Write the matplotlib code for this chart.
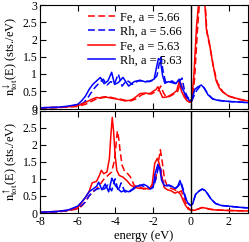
import matplotlib
matplotlib.use("Agg")
import matplotlib.pyplot as plt

plt.rcParams['font.family'] = ['Liberation Serif', 'DejaVu Serif']
plt.rcParams['mathtext.fontset'] = 'stix'

# ---- spin down (top panel) ----
fe66_dn_x = [-8, -7, -6.5, -6, -5.6, -5.3, -5.0, -4.7, -4.4, -4.1, -3.8, -3.5, -3.2, -2.9, -2.6, -2.3, -2.1, -1.9, -1.72, -1.6, -1.45, -1.3, -1.1, -0.9, -0.7, -0.55, -0.42, -0.3, -0.15, 0.0, 0.1, 0.2, 0.35, 0.5, 0.62, 0.75, 0.85, 1.0, 1.2, 1.4, 1.7, 2.0, 2.5, 3.0]
fe66_dn_y = [0.02, 0.03, 0.04, 0.06, 0.12, 0.2, 0.28, 0.33, 0.35, 0.3, 0.28, 0.24, 0.22, 0.28, 0.4, 0.45, 0.42, 0.48, 0.52, 0.65, 0.45, 0.32, 0.36, 0.42, 0.5, 0.75, 0.55, 0.35, 0.22, 0.18, 0.3, 0.9, 2.3, 3.4, 4.3, 3.1, 2.2, 1.8, 1.2, 0.75, 0.48, 0.36, 0.27, 0.22]

rh66_dn_x = [-8, -7, -6.5, -6, -5.7, -5.5, -5.3, -5.1, -4.9, -4.65, -4.45, -4.25, -4.05, -3.85, -3.65, -3.4, -3.1, -2.8, -2.5, -2.2, -2.0, -1.8, -1.68, -1.58, -1.48, -1.35, -1.2, -1.0, -0.8, -0.6, -0.47, -0.35, -0.2, -0.05, 0.05, 0.15, 0.3, 0.5, 0.7, 0.9, 1.15, 1.4, 1.7, 2.1, 2.5, 3.0]
rh66_dn_y = [0.02, 0.03, 0.06, 0.1, 0.16, 0.28, 0.45, 0.6, 0.72, 0.85, 0.68, 0.78, 0.72, 1.0, 0.65, 0.82, 0.7, 0.8, 0.8, 0.78, 0.82, 0.95, 1.3, 1.48, 1.1, 0.78, 0.75, 0.8, 0.72, 0.8, 0.88, 0.55, 0.35, 0.25, 0.22, 0.35, 0.52, 0.65, 0.6, 0.42, 0.28, 0.24, 0.22, 0.2, 0.19, 0.17]

fe63_dn_x = [-8, -7, -6.5, -6, -5.7, -5.5, -5.2, -5.0, -4.8, -4.5, -4.2, -4.0, -3.7, -3.5, -3.2, -3.0, -2.7, -2.4, -2.2, -2.0, -1.85, -1.75, -1.65, -1.5, -1.3, -1.1, -0.9, -0.75, -0.62, -0.5, -0.35, -0.2, -0.07, 0.05, 0.15, 0.3, 0.45, 0.58, 0.72, 0.82, 0.98, 1.16, 1.33, 1.5, 1.68, 2.0, 2.5, 3.0]
fe63_dn_y = [0.02, 0.03, 0.05, 0.08, 0.15, 0.2, 0.28, 0.32, 0.3, 0.33, 0.3, 0.28, 0.25, 0.22, 0.24, 0.3, 0.43, 0.45, 0.42, 0.5, 0.55, 0.63, 0.5, 0.32, 0.33, 0.38, 0.45, 0.52, 0.78, 0.5, 0.33, 0.22, 0.18, 0.28, 0.9, 2.4, 3.3, 4.5, 3.2, 2.3, 1.9, 1.3, 0.82, 0.6, 0.48, 0.36, 0.28, 0.22]

rh63_dn_x = [-8, -7, -6.5, -6, -5.8, -5.6, -5.4, -5.2, -5.0, -4.8, -4.6, -4.4, -4.2, -4.05, -3.85, -3.6, -3.3, -3.0, -2.7, -2.4, -2.15, -1.95, -1.82, -1.72, -1.62, -1.5, -1.38, -1.2, -1.0, -0.8, -0.62, -0.5, -0.38, -0.25, -0.1, 0.0, 0.1, 0.2, 0.35, 0.55, 0.7, 0.9, 1.15, 1.4, 1.7, 2.1, 2.5, 3.0]
rh63_dn_y = [0.02, 0.04, 0.07, 0.12, 0.22, 0.35, 0.55, 0.7, 0.8, 0.9, 0.72, 0.8, 1.05, 0.7, 0.75, 0.9, 0.65, 0.78, 0.82, 0.77, 0.8, 0.85, 1.2, 1.45, 1.4, 0.95, 0.73, 0.78, 0.75, 0.72, 0.85, 0.62, 0.5, 0.35, 0.24, 0.22, 0.35, 0.55, 0.62, 0.68, 0.6, 0.4, 0.28, 0.24, 0.22, 0.2, 0.19, 0.17]

# ---- spin up (bottom panel) ----
fe66_up_x = [-8, -7, -6.5, -6.0, -5.8, -5.6, -5.4, -5.2, -5.0, -4.8, -4.6, -4.4, -4.2, -4.05, -3.97, -3.9, -3.83, -3.75, -3.65, -3.5, -3.35, -3.2, -3.0, -2.75, -2.5, -2.3, -2.1, -1.9, -1.75, -1.62, -1.52, -1.4, -1.25, -1.05, -0.85, -0.65, -0.5, -0.38, -0.25, -0.12, 0.0, 0.2, 0.4, 0.6, 0.8, 1.0, 1.3, 1.7, 2.2, 3.0]
fe66_up_y = [0.02, 0.04, 0.07, 0.12, 0.2, 0.32, 0.5, 0.62, 0.7, 0.85, 1.0, 1.1, 1.2, 1.55, 2.0, 2.4, 2.2, 1.8, 1.4, 1.2, 1.15, 1.05, 0.8, 0.78, 0.7, 0.72, 0.75, 0.9, 1.4, 1.85, 1.5, 1.0, 0.78, 0.72, 0.68, 0.6, 0.65, 0.45, 0.28, 0.14, 0.08, 0.08, 0.12, 0.16, 0.14, 0.11, 0.09, 0.08, 0.07, 0.06]

rh66_up_x = [-8, -7, -6.5, -6.0, -5.8, -5.6, -5.4, -5.2, -5.0, -4.8, -4.6, -4.4, -4.2, -4.02, -3.85, -3.7, -3.5, -3.3, -3.1, -2.9, -2.7, -2.5, -2.3, -2.1, -1.95, -1.82, -1.7, -1.6, -1.5, -1.35, -1.15, -0.95, -0.8, -0.65, -0.52, -0.4, -0.25, -0.1, 0.0, 0.1, 0.25, 0.45, 0.6, 0.75, 0.9, 1.05, 1.3, 1.6, 2.0, 2.5, 3.0]
rh66_up_y = [0.02, 0.04, 0.07, 0.15, 0.22, 0.32, 0.5, 0.62, 0.7, 0.72, 0.7, 0.82, 0.65, 1.0, 0.65, 0.88, 0.62, 0.6, 0.68, 0.75, 0.82, 0.78, 0.75, 0.72, 0.8, 1.1, 1.4, 1.3, 0.95, 0.8, 0.82, 0.75, 0.72, 0.8, 0.9, 0.68, 0.4, 0.25, 0.22, 0.28, 0.55, 0.65, 0.7, 0.66, 0.55, 0.42, 0.28, 0.22, 0.2, 0.17, 0.15]

fe63_up_x = [-8, -7, -6.5, -6.0, -5.8, -5.6, -5.4, -5.24, -5.0, -4.85, -4.75, -4.62, -4.45, -4.32, -4.24, -4.17, -4.1, -4.02, -3.93, -3.8, -3.6, -3.4, -3.2, -3.0, -2.7, -2.4, -2.2, -2.05, -1.92, -1.78, -1.68, -1.56, -1.42, -1.25, -1.05, -0.85, -0.7, -0.55, -0.42, -0.28, -0.15, 0.0, 0.2, 0.4, 0.6, 0.8, 1.0, 1.3, 1.7, 2.2, 3.0]
fe63_up_y = [0.02, 0.05, 0.08, 0.15, 0.3, 0.45, 0.62, 0.88, 0.93, 1.1, 1.25, 1.15, 1.2, 1.6, 2.3, 2.8, 2.4, 1.7, 1.25, 1.1, 1.05, 0.95, 0.82, 0.75, 0.72, 0.72, 0.7, 0.85, 1.45, 1.6, 1.45, 1.1, 0.75, 0.68, 0.65, 0.58, 0.62, 0.55, 0.38, 0.22, 0.12, 0.08, 0.08, 0.12, 0.16, 0.14, 0.11, 0.09, 0.08, 0.07, 0.06]

rh63_up_x = [-8, -7, -6.5, -6.0, -5.8, -5.6, -5.4, -5.15, -5.0, -4.89, -4.72, -4.54, -4.36, -4.19, -4.0, -3.85, -3.7, -3.5, -3.3, -3.1, -2.9, -2.7, -2.5, -2.3, -2.15, -2.0, -1.9, -1.75, -1.65, -1.55, -1.4, -1.2, -1.0, -0.85, -0.7, -0.58, -0.45, -0.3, -0.15, 0.0, 0.1, 0.25, 0.45, 0.6, 0.75, 0.9, 1.05, 1.3, 1.6, 2.0, 2.5, 3.0]
rh63_up_y = [0.02, 0.05, 0.09, 0.2, 0.32, 0.45, 0.62, 0.72, 0.78, 0.9, 0.68, 0.85, 0.62, 1.02, 0.8, 0.7, 0.62, 0.66, 0.62, 0.7, 0.78, 0.8, 0.84, 0.78, 0.7, 0.75, 1.15, 1.42, 1.3, 0.95, 0.8, 0.8, 0.78, 0.72, 0.78, 0.95, 0.72, 0.45, 0.28, 0.22, 0.28, 0.55, 0.65, 0.7, 0.66, 0.55, 0.42, 0.28, 0.22, 0.2, 0.17, 0.15]

labels = ["Fe, a = 5.66", "Rh, a = 5.66", "Fe, a = 5.63", "Rh, a = 5.63"]
xticks = [-8, -6, -4, -2, 0, 2]
xticklabels = ['-8', '-6', '-4', '-2', '0', '2']
yticks = [0, 0.5, 1, 1.5, 2, 2.5, 3]
yticklabels = ['0', '0.5', '1', '1.5', '2', '2.5', '3']

fig = plt.figure(figsize=(2.49, 2.42), dpi=100)
W, H = 249, 242
def ax_at(l, t, r, b):
    return fig.add_axes([l / W, 1 - b / H, (r - l) / W, (b - t) / H])

ax1 = ax_at(40, 5, 247.5, 108.5)
ax2 = ax_at(40, 110.5, 247.5, 213)

dash = (0, (4.5, 2.2))
lw = 1.1
series_dn = [(fe66_dn_x, fe66_dn_y, 'red', dash), (rh66_dn_x, rh66_dn_y, 'blue', dash),
             (fe63_dn_x, fe63_dn_y, 'red', '-'), (rh63_dn_x, rh63_dn_y, 'blue', '-')]
series_up = [(fe66_up_x, fe66_up_y, 'red', dash), (rh66_up_x, rh66_up_y, 'blue', dash),
             (fe63_up_x, fe63_up_y, 'red', '-'), (rh63_up_x, rh63_up_y, 'blue', '-')]

for ax, series in [(ax1, series_dn), (ax2, series_up)]:
    for (x, y, c, ls), lab in zip(series, labels):
        ax.plot(x, y, color=c, ls=ls, lw=lw, label=lab)
    ax.axvline(0, color='black', lw=1.0)
    ax.set_xlim(-8, 3)
    ax.set_ylim(0, 3)
    ax.set_xticks(xticks)
    ax.set_yticks(yticks)
    ax.set_yticklabels(yticklabels)
    ax.tick_params(direction='in', top=True, right=True, length=4, width=0.8, labelsize=8.5, pad=2)
    for s in ax.spines.values():
        s.set_linewidth(0.8)

ax1.tick_params(labelbottom=False)
ax2.set_xticklabels(xticklabels)
ax2.set_xlabel('energy (eV)', fontsize=9, labelpad=1.5)
ax1.set_ylabel(r'$\mathrm{n}^{\downarrow}_{\mathrm{tot}}$(E) (sts./eV)', fontsize=9, labelpad=2)
ax2.set_ylabel(r'$\mathrm{n}^{\uparrow}_{\mathrm{tot}}$(E) (sts./eV)', fontsize=9, labelpad=2)

ax1.legend(loc='upper left', bbox_to_anchor=(0.2, 1.0), frameon=False, fontsize=9,
           handlelength=2.2, handletextpad=0.4, labelspacing=0.2, borderaxespad=0.3, borderpad=0.2)

fig.savefig('out.png', dpi=100)
